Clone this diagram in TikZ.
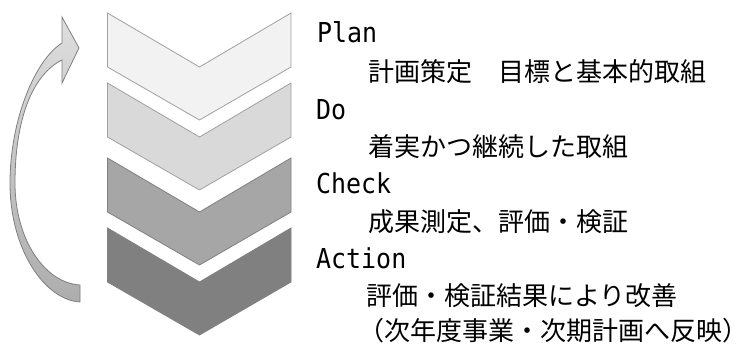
\documentclass[tikz,border=0pt]{standalone}
\usepackage{fontspec}
\setmainfont{Noto Sans CJK JP}
\newfontfamily\latinmono[FakeStretch=0.91]{DejaVu Sans Mono}
\definecolor{cvA}{HTML}{F2F2F2}
\definecolor{cvB}{HTML}{D9D9D9}
\definecolor{cvC}{HTML}{A6A6A6}
\definecolor{cvD}{HTML}{808080}
\definecolor{cvEdge}{HTML}{A0A0A0}
\definecolor{arrTop}{HTML}{DEDEDE}
\definecolor{arrBot}{HTML}{ADADAD}
\definecolor{arrEdge}{HTML}{7F7F7F}
\begin{document}
\begin{tikzpicture}[x=1pt,y=-1pt,
  head/.style={anchor=base west,inner sep=0pt,font=\latinmono\fontsize{27.4}{28}\selectfont},
  sub/.style={anchor=west,inner sep=0pt,font=\fontsize{26}{26}\selectfont},
  chev/.style={line width=0.8pt,line join=miter}]
\useasboundingbox (0,0) rectangle (750,345);
% chevrons
\newcommand{\chevron}[3]{%
  \draw[chev,fill=#2,draw=#3] (107.5,#1) -- (199.5,#1+54) -- (291,#1) -- (291,#1+54) -- (199.5,#1+107) -- (107.5,#1+54) -- cycle;}
\chevron{13}{cvA}{cvEdge}
\chevron{83}{cvB}{cvEdge}
\chevron{158}{cvC}{cvEdge!80!black}
\chevron{228}{cvD}{cvD}
% curved arrow
\draw[line width=0.8pt,draw=arrEdge,top color=arrTop,bottom color=arrBot,line join=miter]
  (80,302) .. controls (45,300) and (10,250) .. (10,183)
  .. controls (10,120) and (35,60) .. (62,43)
  -- (62,17) -- (79,48) -- (62,83) -- (62,60)
  .. controls (32,75) and (15,120) .. (15,183)
  .. controls (15,240) and (45,283) .. (80,285) -- cycle;
% texts
\node[head] (plan) at (317,43) {Plan};
\node[sub] (plant) at (368,72) {計画策定　目標と基本的取組};
\node[head] (do) at (316,119) {Do};
\node[sub] (dot) at (368,147) {着実かつ継続した取組};
\node[head] (check) at (316,193) {Check};
\node[sub] (checkt) at (368,222) {成果測定、評価・検証};
\node[head] (action) at (316,268) {Action};
\node[sub] (actiont) at (366,296) {評価・検証結果により改善};
\node[sub] (actiont2) at (358,330.5) {（次年度事業・次期計画へ反映）};
\end{tikzpicture}
\end{document}
